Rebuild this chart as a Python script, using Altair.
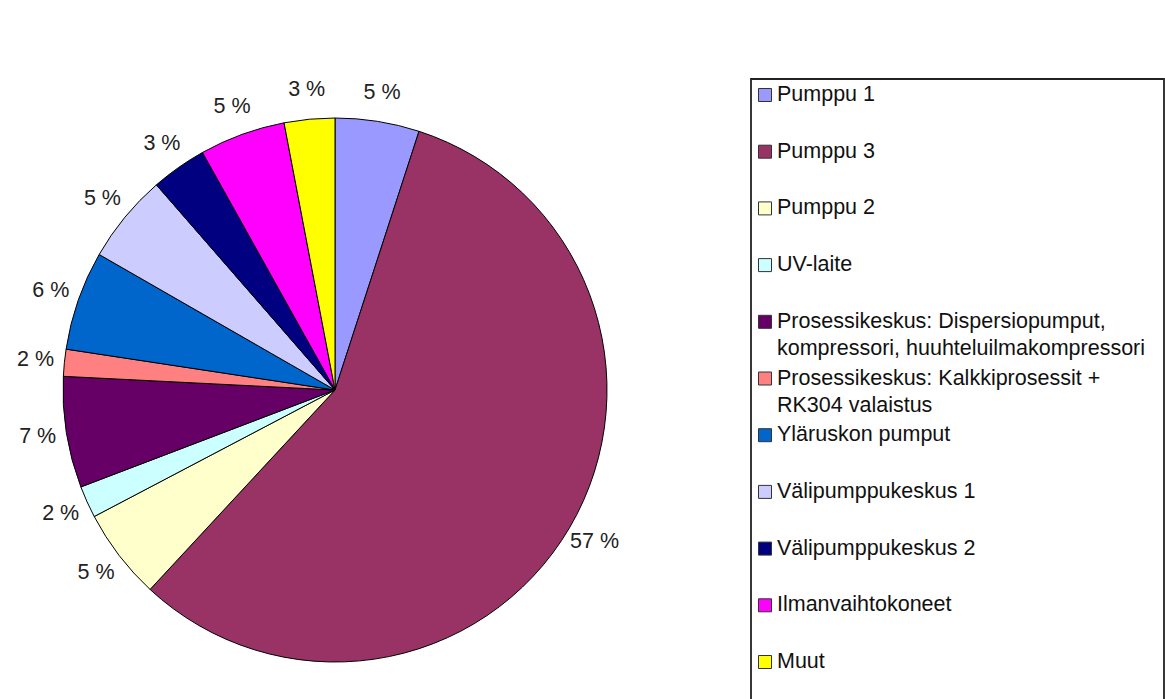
import altair as alt
import pandas as pd

# Energy use share by consumer (percent)
categories = [
    "Pumppu 1",
    "Pumppu 3",
    "Pumppu 2",
    "UV-laite",
    "Prosessikeskus: Dispersiopumput, kompressori, huuhteluilmakompressori",
    "Prosessikeskus: Kalkkiprosessit + RK304 valaistus",
    "Yläruskon pumput",
    "Välipumppukeskus 1",
    "Välipumppukeskus 2",
    "Ilmanvaihtokoneet",
    "Muut",
]
legend_labels = [
    "Pumppu 1",
    "Pumppu 3",
    "Pumppu 2",
    "UV-laite",
    "Prosessikeskus: Dispersiopumput,\nkompressori, huuhteluilmakompressori",
    "Prosessikeskus: Kalkkiprosessit +\nRK304 valaistus",
    "Yläruskon pumput",
    "Välipumppukeskus 1",
    "Välipumppukeskus 2",
    "Ilmanvaihtokoneet",
    "Muut",
]
shares = [5.0, 56.9, 5.4, 1.9, 6.6, 1.6, 5.9, 5.3, 3.3, 5.1, 3.0]
colors = [
    "#9999FF", "#993366", "#FFFFCC", "#CCFFFF", "#660066", "#FF8080",
    "#0066CC", "#CCCCFF", "#000080", "#FF00FF", "#FFFF00",
]

df = pd.DataFrame({
    "category": categories,
    "legend": legend_labels,
    "share": shares,
    "idx": list(range(len(categories))),
})
df["label"] = [format(v, ".0f") + " %" for v in shares]

FONT = "Liberation Sans"
FS = 21.5
CX, CY, R = 335, 390, 272

color = alt.Color(
    "category:N",
    scale=alt.Scale(domain=categories, range=colors),
    legend=None,
)
theta = alt.Theta("share:Q", stack=True)
order = alt.Order("idx:Q")

base = alt.Chart(df)

pie = base.mark_arc(radius=R, stroke="#000000", strokeWidth=1).encode(
    theta=theta, color=color, order=order,
    x=alt.value(CX), y=alt.value(CY),
)

pct = base.mark_text(radius=301, font=FONT, fontSize=FS, color="#222222").encode(
    theta=theta, text="label:N", order=order,
    x=alt.value(CX), y=alt.value(CY),
)

# Hand-built legend on the right
box = alt.Chart(alt.Data(values=[{"k": 1}])).mark_rect(
    fill="#FFFFFF", stroke="#222222", strokeWidth=1.8
).encode(
    x=alt.value(751), x2=alt.value(1164), y=alt.value(79), y2=alt.value(730)
)

ypos = alt.Y(
    "idx:Q",
    scale=alt.Scale(domain=[0, 10], range=[95, 662], zero=False, nice=False),
    axis=None,
)

swatch = base.mark_square(size=169, stroke="#333333", strokeWidth=1, opacity=1).encode(
    x=alt.value(765), y=ypos, color=color,
)

names = base.mark_text(
    align="left", baseline="top", dy=-11, font=FONT, fontSize=FS,
    color="#111111", lineBreak="\n", lineHeight=27,
).encode(
    x=alt.value(777), y=ypos, text="legend:N",
)

chart = alt.layer(pie, pct, box, swatch, names).properties(
    width=1165, height=699, padding=0, autosize="none"
).configure_view(stroke=None)

chart.save("out.html", embed_options={"renderer": "svg", "actions": False})
